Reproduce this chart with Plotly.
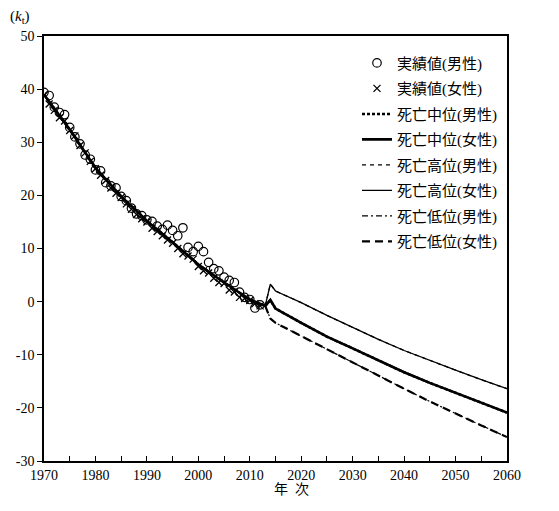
import plotly.graph_objects as go

# ---- data ----
obs_years = list(range(1970, 2013))
male_obs = [39.4, 38.8, 36.6, 35.6, 35.2, 32.8, 31.0, 29.7, 27.6, 26.8,
            24.8, 24.6, 22.4, 21.8, 21.4, 19.8, 19.0, 17.6, 16.5, 16.2,
            15.4, 15.1, 14.2, 13.6, 14.4, 13.4, 12.4, 13.9, 10.2, 9.4,
            10.4, 9.4, 7.4, 6.2, 5.8, 4.6, 4.0, 3.6, 1.8, 0.8,
            0.4, -1.2, -0.6]
female_obs = [38.8, 37.2, 36.0, 34.6, 34.0, 32.2, 31.2, 29.4, 28.0, 26.4,
              25.0, 23.8, 22.8, 21.4, 20.4, 19.6, 18.4, 17.4, 16.4, 15.6,
              15.0, 13.8, 13.2, 12.4, 11.6, 11.0, 10.0, 9.0, 8.6, 8.0,
              6.6, 5.8, 5.4, 4.4, 3.6, 3.4, 2.2, 1.8, 0.8, 0.6,
              0.2, -0.4, -0.8]

fit_years = [1970, 1975, 1980, 1985, 1990, 1995, 2000, 2005, 2010, 2013]
fit_vals = [39.0, 32.4, 25.2, 19.8, 15.2, 11.2, 7.0, 3.6, 0.4, -0.8]

proj_years = [2014, 2015, 2020, 2025, 2030, 2035, 2040, 2045, 2050, 2055, 2060]
mid_proj = [0.3, -1.3, -4.0, -6.6, -8.8, -11.1, -13.3, -15.3, -17.2, -19.0, -20.9]
high_proj = [3.3, 2.0, -0.2, -2.6, -4.9, -7.1, -9.2, -11.1, -12.9, -14.7, -16.4]
low_proj = [-3.2, -4.0, -6.5, -9.0, -11.5, -14.0, -16.4, -18.8, -21.1, -23.3, -25.5]
start_year = 2013
start_val = -0.8

y_ticks = [-30, -20, -10, 0, 10, 20, 30, 40, 50]
y_tick_text = ["-30", "-20", "-10", "0", "10", "20", "30", "40", "50"]
x_ticks = [1970, 1980, 1990, 2000, 2010, 2020, 2030, 2040, 2050, 2060]

names = ["実績値(男性)", "実績値(女性)", "死亡中位(男性)", "死亡中位(女性)",
         "死亡高位(男性)", "死亡高位(女性)", "死亡低位(男性)", "死亡低位(女性)"]

FONT = "Liberation Serif, Noto Sans CJK JP, serif"

mid_x = fit_years + proj_years
mid_y = fit_vals + mid_proj
hl_x = [start_year] + proj_years
high_y = [start_val] + high_proj
low_y = [start_val] + low_proj

fig = go.Figure()

def line(x, y, name, width, dash, rank):
    fig.add_trace(go.Scatter(x=x, y=y, mode="lines", name=name, legendrank=rank,
                             legendgroup=name,
                             line=dict(color="black", width=width, dash=dash)))

line(mid_x, mid_y, names[2], 2.5, "3px,2px", 3)
line(hl_x, high_y, names[4], 1.3, "4px,4px", 5)
line(hl_x, low_y, names[6], 1.2, "6px,3px,2px,3px", 7)
line(mid_x, mid_y, names[3], 2.6, "solid", 4)
line(hl_x, high_y, names[5], 1.3, "solid", 6)
line(hl_x, low_y, names[7], 2.2, "8px,5px", 8)

fig.add_trace(go.Scatter(x=obs_years, y=male_obs, mode="markers", name=names[0],
                         legendrank=1, legendgroup=names[0],
                         marker=dict(symbol="circle-open", size=8.5, color="black",
                                     line=dict(width=1.2, color="black"))))
fig.add_trace(go.Scatter(x=obs_years, y=female_obs, mode="markers", name=names[1],
                         legendrank=2, legendgroup=names[1],
                         marker=dict(symbol="x-thin-open", size=7, color="black",
                                     line=dict(width=1.3, color="black"))))

fig.update_layout(
    width=551, height=503,
    margin=dict(l=36, r=52, t=28, b=50, autoexpand=False),
    paper_bgcolor="white", plot_bgcolor="white",
    font=dict(family=FONT, size=14, color="black"),
    showlegend=True,
    legend=dict(x=0.676, y=0.975, xanchor="left", yanchor="top",
                bgcolor="rgba(0,0,0,0)", font=dict(size=15, family=FONT),
                tracegroupgap=3, itemwidth=30),
    xaxis=dict(range=[1970, 2060], tickvals=x_ticks, ticks="inside", ticklen=5,
               minor=dict(dtick=5, ticks="inside", ticklen=5, tickcolor="black"),
               showgrid=False, zeroline=False, showline=True, linecolor="black",
               linewidth=1.5, mirror=True, tickcolor="black",
               tickfont=dict(size=14, family=FONT)),
    yaxis=dict(range=[-30, 50], tickvals=y_ticks, ticktext=y_tick_text,
               ticks="outside", ticklen=5, showgrid=False, zeroline=False,
               showline=True, linecolor="black", linewidth=1.5, mirror=True,
               tickcolor="black", tickfont=dict(size=14, family=FONT)),
    annotations=[
        dict(text="(<i>k</i><sub>t</sub>)", x=-0.052, y=1.045, xref="paper", yref="paper",
             xanchor="center", yanchor="middle",
             showarrow=False, font=dict(size=15, family=FONT)),
        dict(text="年  次", x=0.535, y=-0.068, xref="paper", yref="paper",
             xanchor="center", yanchor="middle", showarrow=False,
             font=dict(size=14, family=FONT)),
    ],
)

fig.write_html("out.html")
